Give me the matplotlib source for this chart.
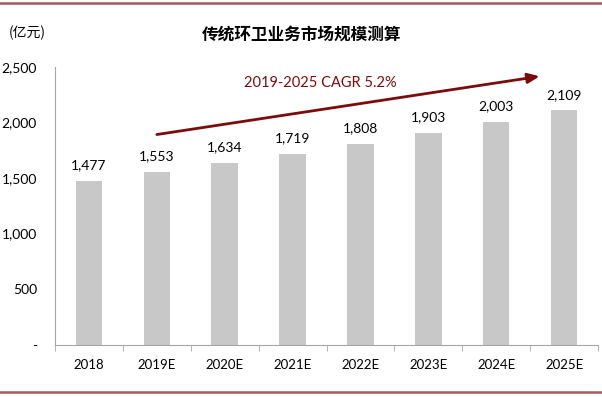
import matplotlib
matplotlib.use("Agg")
import matplotlib.pyplot as plt
from matplotlib.lines import Line2D
import numpy as np

categories = ["2018", "2019E", "2020E", "2021E", "2022E", "2023E", "2024E", "2025E"]
values = [1477, 1553, 1634, 1719, 1808, 1903, 2003, 2109]
yticks = [0, 500, 1000, 1500, 2000, 2500]
ytick_labels = ["-", "500", "1,000", "1,500", "2,000", "2,500"]
title = "传统环卫业务市场规模测算"
unit = "(亿元)"
cagr_text = "2019-2025 CAGR 5.2%"

plt.rcParams['font.family'] = ['Lato', 'Noto Sans CJK SC', 'DejaVu Sans']

fig = plt.figure(figsize=(6.02, 3.97), dpi=100)
ax = fig.add_axes([55/602, 1-344.7/397, (598-55)/602, (344.7-67)/397])

x = np.arange(len(categories))
ax.bar(x, values, width=0.39, color="#c8c8c8", zorder=2)
for xi, v in zip(x, values):
    ax.annotate(f"{v:,}", (xi, v), xytext=(0, 7), textcoords="offset points",
                ha="center", va="bottom", fontsize=10, color="#000000")

ax.set_xlim(-0.5, len(categories) - 0.5)
ax.set_ylim(0, 2500)
ax.set_xticks(x)
ax.set_xticklabels(categories, fontsize=9.5)
ax.set_xticks(np.arange(-0.5, len(categories)), minor=True)
ax.tick_params(axis="x", which="major", length=0, pad=10)
ax.tick_params(axis="x", which="minor", length=4, color="#a6a6a6", direction="out")
ax.set_yticks(yticks)
ax.set_yticklabels(ytick_labels, fontsize=10)
ax.tick_params(axis="y", length=0, pad=13)

for s in ["top", "right"]:
    ax.spines[s].set_visible(False)
ax.spines["left"].set_color("#a6a6a6")
ax.spines["bottom"].set_color("#a6a6a6")

# CAGR arrow
ax.annotate("", xy=(6.64, 2416), xytext=(1.0, 1892),
            arrowprops=dict(arrowstyle="-|>,head_length=0.7,head_width=0.3",
                            color="#7b0c0c", lw=2, shrinkA=0, shrinkB=0))
fig.text(320/602, 1-83.3/397, cagr_text, ha="center", va="center",
         fontsize=10.5, color="#7b0c0c")

fig.text(301.7/602, 1-35/397, title, ha="center", va="center",
         fontsize=12, fontweight="bold", family=["Noto Sans CJK SC", "DejaVu Sans"])
fig.text(9/602, 1-33/397, unit, ha="left", va="center", fontsize=10,
         family=["Noto Sans CJK SC", "DejaVu Sans"])

# border lines
fig.add_artist(Line2D([0, 1], [1-2.5/397, 1-2.5/397], transform=fig.transFigure,
                      color="#a35a5a", lw=1.8))
fig.add_artist(Line2D([0, 1], [1-392.3/397, 1-392.3/397], transform=fig.transFigure,
                      color="#a35a5a", lw=1.8))

fig.savefig("out.png", dpi=100)
